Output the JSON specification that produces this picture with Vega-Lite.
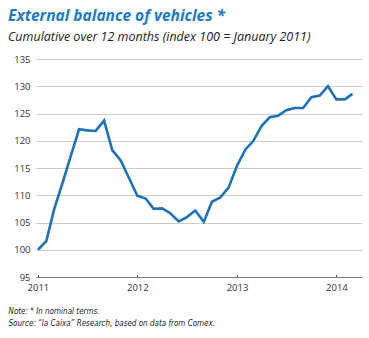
{
  "$schema": "https://vega.github.io/schema/vega-lite/v6.json",
  "width": 326,
  "height": 218,
  "autosize": "none",
  "padding": {"left": 36, "top": 59, "right": 7, "bottom": 61},
  "background": "white",
  "title": {
    "text": "External balance of vehicles *",
    "subtitle": "Cumulative over 12 months (index 100 = January 2011)",
    "anchor": "start",
    "frame": "group",
    "dx": -28,
    "offset": 11,
    "font": "Open Sans",
    "fontSize": 15.5,
    "fontWeight": "bold",
    "fontStyle": "italic",
    "color": "#1a7bc8",
    "subtitleFont": "Open Sans",
    "subtitleFontSize": 12.5,
    "subtitleFontStyle": "italic",
    "subtitleColor": "#222222",
    "subtitlePadding": 6
  },
  "config": {
    "view": {"stroke": null},
    "axis": {"labelFont": "Open Sans", "labelColor": "#333333", "labelFontSize": 9}
  },
  "data": {
    "values": [
      {"date": "2011-01-01", "value": 100.0},
      {"date": "2011-02-01", "value": 101.6},
      {"date": "2011-03-01", "value": 107.3},
      {"date": "2011-04-01", "value": 112.2},
      {"date": "2011-05-01", "value": 117.1},
      {"date": "2011-06-01", "value": 122.1},
      {"date": "2011-07-01", "value": 121.9},
      {"date": "2011-08-01", "value": 121.8},
      {"date": "2011-09-01", "value": 123.7},
      {"date": "2011-10-01", "value": 118.3},
      {"date": "2011-11-01", "value": 116.4},
      {"date": "2011-12-01", "value": 113.2},
      {"date": "2012-01-01", "value": 109.9},
      {"date": "2012-02-01", "value": 109.4},
      {"date": "2012-03-01", "value": 107.5},
      {"date": "2012-04-01", "value": 107.6},
      {"date": "2012-05-01", "value": 106.7},
      {"date": "2012-06-01", "value": 105.2},
      {"date": "2012-07-01", "value": 106.0},
      {"date": "2012-08-01", "value": 107.2},
      {"date": "2012-09-01", "value": 105.1},
      {"date": "2012-10-01", "value": 108.8},
      {"date": "2012-11-01", "value": 109.6},
      {"date": "2012-12-01", "value": 111.4},
      {"date": "2013-01-01", "value": 115.4},
      {"date": "2013-02-01", "value": 118.4},
      {"date": "2013-03-01", "value": 119.9},
      {"date": "2013-04-01", "value": 122.7},
      {"date": "2013-05-01", "value": 124.3},
      {"date": "2013-06-01", "value": 124.6},
      {"date": "2013-07-01", "value": 125.6},
      {"date": "2013-08-01", "value": 126.0},
      {"date": "2013-09-01", "value": 126.0},
      {"date": "2013-10-01", "value": 128.0},
      {"date": "2013-11-01", "value": 128.3},
      {"date": "2013-12-01", "value": 130.0},
      {"date": "2014-01-01", "value": 127.6},
      {"date": "2014-02-01", "value": 127.6},
      {"date": "2014-03-01", "value": 128.6}
    ]
  },
  "mark": {"type": "line", "color": "#1f72b8", "strokeWidth": 2.6, "strokeJoin": "miter"},
  "encoding": {
    "x": {
      "field": "date",
      "type": "temporal",
      "scale": {"domain": ["2010-12-25", "2014-04-05"]},
      "axis": {
        "title": ["Note: * In nominal terms.", "Source: \u201cla Caixa\u201d Research, based on data from Comex."],
        "titleFont": "DejaVu Sans Condensed",
        "titleFontSize": 8,
        "titleFontWeight": "normal",
        "titleFontStyle": "italic",
        "titleColor": "#222222",
        "titleAnchor": "start",
        "titleAlign": "left",
        "titleX": -28,
        "titleY": 36,
        "titleBaseline": "alphabetic",
        "titleLineHeight": 12,
        "format": "%Y",
        "tickCount": {"interval": "year", "step": 1},
        "grid": false,
        "domainColor": "#777777",
        "domainWidth": 1,
        "tickColor": "#555555",
        "tickSize": -2.5,
        "labelPadding": 8,
        "labelFontSize": 9.5
      }
    },
    "y": {
      "field": "value",
      "type": "quantitative",
      "scale": {"domain": [95, 135], "nice": false, "zero": false},
      "axis": {
        "title": null,
        "values": [95, 100, 105, 110, 115, 120, 125, 130, 135],
        "domain": false,
        "ticks": false,
        "grid": true,
        "gridColor": "#cccccc",
        "gridWidth": 1,
        "labelPadding": 6,
        "labelFontSize": 9.5
      }
    }
  }
}
